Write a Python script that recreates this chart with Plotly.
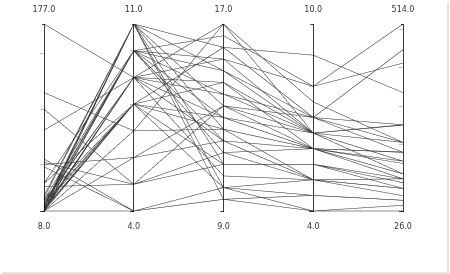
import plotly.graph_objects as go

# dimension ranges (min, max)
ranges = [[8, 177], [4, 11], [9, 17], [4, 10], [26, 514]]

# series values per dimension
d1 = [177, 115, 100, 81, 55, 52, 50, 48, 33, 33, 30, 22, 20, 18, 17, 15, 12, 12, 10, 10,
      9, 9, 8, 8, 8, 8, 8, 8, 8, 9, 10, 11, 14, 16, 19, 8, 8, 13]
d2 = [9, 7, 5, 9, 4, 5, 6, 4, 8, 10, 5, 11, 11, 10, 9, 8, 11, 10, 11, 9,
      8, 10, 11, 10, 9, 8, 4, 11, 10, 9, 8, 11, 10, 9, 8, 7, 6, 8]
d3 = [13, 12.5, 11, 14, 9.5, 13.5, 12, 10, 16, 15, 11.5, 13.5, 10, 16.5, 17, 14.5, 12.5, 15.5, 9.5, 12,
      16, 13, 11, 14, 10.5, 13, 9.5, 15, 11.5, 14.5, 11, 16, 12, 15.5, 12.5, 17, 13.5, 10]
d4 = [6, 6, 5.5, 6.5, 4.5, 7, 5, 4, 9, 7, 6, 6.5, 5, 8, 7.5, 6.5, 5, 8, 4.5, 6,
      7, 6.5, 5.5, 7, 5, 6, 4, 6.5, 5, 6, 5.5, 7, 5, 6.5, 6, 6.5, 6, 4.5]
d5 = [150, 180, 110, 250, 54, 447, 85, 41, 335, 205, 123, 156, 85, 514, 205, 251, 110, 412, 54, 179,
      447, 123, 100, 251, 85, 156, 26, 205, 110, 123, 85, 179, 66, 156, 179, 251, 110, 54]

cols = [d1, d2, d3, d4, d5]


def make_trace(main):
    dims = []
    for v, rg in zip(cols, ranges):
        d = dict(values=v, range=rg, label="", tickformat=".1f")
        if not main:
            # overlays: ticks only at the axis ends, no text
            d.update(tickvals=rg, ticktext=["", ""])
        dims.append(d)
    return go.Parcoords(
        dimensions=dims,
        line=dict(color=[0] * len(d1),
                  colorscale=[[0, "#3c3c3c"], [1, "#3c3c3c"]], showscale=False),
        tickfont=dict(family="DejaVu Sans", size=8, color="rgba(0,0,0,0)"),
        rangefont=dict(family="DejaVu Sans", size=8,
                       color="#333333" if main else "rgba(0,0,0,0)"),
        labelfont=dict(family="DejaVu Sans", size=8, color="#333333"),
    )


fig = go.Figure()
fig.add_trace(make_trace(True))
# overlays: their axis lines stack so the axes read darker
for _ in range(4):
    fig.add_trace(make_trace(False))

fig.update_layout(
    width=447, height=272,
    margin=dict(l=44, r=44, t=22, b=59),
    paper_bgcolor="white", plot_bgcolor="white",
)

frame_js = """
var gd = document.getElementsByClassName('plotly-graph-div')[0];
gd.style.boxShadow = '2px 2px 0 0 #e3e3e3';
"""

fig.write_html("out.html", post_script=frame_js)
